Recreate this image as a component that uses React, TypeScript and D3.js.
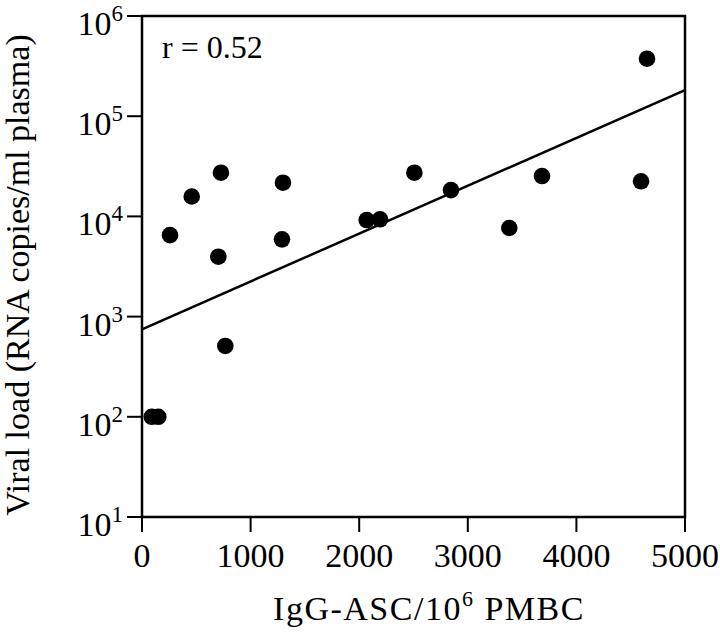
import React from 'react';
import * as d3 from 'd3';

// IgG-ASC per 10^6 PMBC vs viral load (RNA copies/ml plasma)
const ascValues = [90, 150, 258, 458, 727, 703, 1298, 1289, 767, 2069, 2192, 2508, 2845, 3683, 3382, 4595, 4650];
const viralLoad = [100, 100, 6500, 15800, 27300, 3960, 21700, 5900, 509, 9200, 9350, 27300, 18300, 25300, 7660, 22400, 375000];

// regression line in log space: log10(y) = a + b * x
const fitIntercept = 2.873;
const fitSlope = 0.0004776;

const xTicks = [0, 1000, 2000, 3000, 4000, 5000];
const yExponents = [1, 2, 3, 4, 5, 6];

const W = 720;
const H = 633;
const margin = { left: 142, top: 16, right: 35, bottom: 116 };
const font = '"Liberation Serif", "Times New Roman", serif';

const App = () => {
  const innerW = W - margin.left - margin.right;
  const innerH = H - margin.top - margin.bottom;

  const x = d3.scaleLinear().domain([0, 5000]).range([0, innerW]);
  const y = d3.scaleLog().domain([10, 1e6]).range([innerH, 0]);

  const points = ascValues.map((v, i) => ({ x: v, y: viralLoad[i] }));

  const fitLine = d3
    .line<number>()
    .x((d) => x(d))
    .y((d) => y(Math.pow(10, fitIntercept + fitSlope * d)));

  return (
    <svg width={W} height={H} style={{ position: 'absolute', left: 0, top: 0, background: '#fff' }}>
      <g transform={`translate(${margin.left},${margin.top})`} fontFamily={font} fill="#000">
        {/* frame */}
        <rect x={0} y={0} width={innerW} height={innerH} fill="none" stroke="#000" strokeWidth={2.5} />

        {/* y axis ticks and labels */}
        {yExponents.map((e) => (
          <g key={e} transform={`translate(0,${y(Math.pow(10, e))})`}>
            <line x1={-15} x2={0} stroke="#000" strokeWidth={2} />
            <text x={-19} y={19} textAnchor="end" fontSize={34}>
              10<tspan dy={-14} fontSize={23}>{e}</tspan>
            </text>
          </g>
        ))}

        {/* x axis ticks and labels */}
        {xTicks.map((t) => (
          <g key={t} transform={`translate(${x(t)},${innerH})`}>
            <line y1={0} y2={15} stroke="#000" strokeWidth={2} />
            <text y={50} textAnchor="middle" fontSize={34}>
              {t}
            </text>
          </g>
        ))}

        {/* regression line */}
        <path d={fitLine([0, 5000]) || ''} fill="none" stroke="#000" strokeWidth={2.5} />

        {/* data points */}
        {points.map((p, i) => (
          <circle key={i} cx={x(p.x)} cy={y(p.y)} r={8.3} fill="#000" />
        ))}

        <text x={20} y={42} fontSize={32}>
          r = 0.52
        </text>

        {/* axis titles */}
        <text x={287} y={604} fontSize={34} textAnchor="middle" letterSpacing={1.5}>
          IgG-ASC/10<tspan dy={-14} fontSize={22}>6</tspan>
          <tspan dy={14}> PMBC</tspan>
        </text>
        <text
          transform={`translate(${29 - margin.left},${275 - margin.top}) rotate(-90)`}
          textAnchor="middle"
          fontSize={34}
        >
          Viral load (RNA copies/ml plasma)
        </text>
      </g>
    </svg>
  );
};

export default App;
